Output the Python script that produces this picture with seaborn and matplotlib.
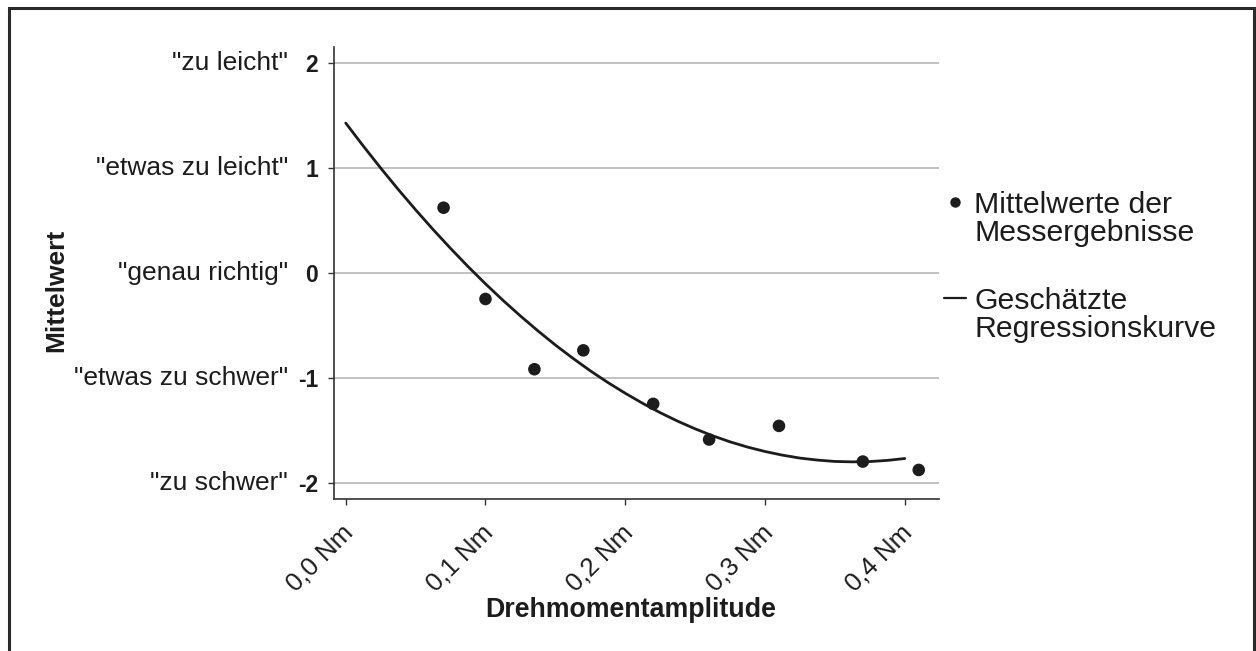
import numpy as np
import pandas as pd
import matplotlib
matplotlib.use("Agg")
import matplotlib.pyplot as plt
import matplotlib.transforms as mtransforms
from matplotlib.lines import Line2D
from matplotlib.patches import Rectangle
from matplotlib.legend_handler import HandlerLine2D
import seaborn as sns

# Data
amplitude = [0.07, 0.10, 0.135, 0.17, 0.22, 0.26, 0.31, 0.37, 0.41]
mean_score = [0.62, -0.25, -0.92, -0.74, -1.25, -1.59, -1.46, -1.80, -1.88]

# estimated regression curve, read at steps of 0.0125 Nm
curve_x = [0.0, 0.0125, 0.025, 0.0375, 0.05, 0.0625, 0.075, 0.0875, 0.1,
           0.1125, 0.125, 0.1375, 0.15, 0.1625, 0.175, 0.1875, 0.2,
           0.2125, 0.225, 0.2375, 0.25, 0.2625, 0.275, 0.2875, 0.3,
           0.3125, 0.325, 0.3375, 0.35, 0.3625, 0.375, 0.3875, 0.4]
curve_y = [1.427, 1.209, 0.998, 0.795, 0.600, 0.412, 0.232, 0.059, -0.106,
           -0.263, -0.412, -0.554, -0.689, -0.815, -0.935, -1.046, -1.149,
           -1.245, -1.334, -1.415, -1.488, -1.554, -1.612, -1.662, -1.704,
           -1.739, -1.767, -1.786, -1.799, -1.803, -1.800, -1.789, -1.771]

y_ticks = [2, 1, 0, -1, -2]
y_tick_labels = ["2", "1", "0", "-1", "-2"]
y_descriptions = ['"zu leicht"', '"etwas zu leicht"', '"genau richtig"',
                  '"etwas zu schwer"', '"zu schwer"']
x_ticks = [0.0, 0.1, 0.2, 0.3, 0.4]
x_tick_labels = ["0,0 Nm", "0,1 Nm", "0,2 Nm", "0,3 Nm", "0,4 Nm"]

points_df = pd.DataFrame({"amp": amplitude, "mean": mean_score})
curve_df = pd.DataFrame({"amp": curve_x, "fit": curve_y})

sns.set_style("white")
plt.rcParams["font.family"] = ["Liberation Sans", "DejaVu Sans"]

dark = "#1c1c1c"
W, H = 1256, 651
fig = plt.figure(figsize=(W / 100, H / 100), dpi=100)
ax = fig.add_axes([334 / W, 1 - 499 / H, (939 - 334) / W, (499 - 47) / H])

sns.lineplot(data=curve_df, x="amp", y="fit", ax=ax, color=dark, lw=2.0,
             zorder=3)
sns.scatterplot(data=points_df, x="amp", y="mean", ax=ax, color=dark, s=82,
                edgecolor="none", zorder=4)

ax.set_xlim(-0.0084, 0.4245)
ax.set_ylim(-2.157, 2.152)

# axes styling
sns.despine(ax=ax)
for side in ["left", "bottom"]:
    ax.spines[side].set_color("#333333")
    ax.spines[side].set_linewidth(1.2)
ax.yaxis.grid(True, color="#b0b0b0", lw=1.1)
ax.set_axisbelow(True)
ax.tick_params(left=True, bottom=True, length=4.5, width=1.0, color="#333333")

ax.set_yticks(y_ticks)
ax.set_yticklabels(y_tick_labels, fontsize=16.5, fontweight="bold", color=dark)
ax.tick_params(axis="y", pad=7)
for yv, desc in zip(y_ticks, y_descriptions):
    ax.text(-0.076, yv, desc, transform=ax.get_yaxis_transform(),
            ha="right", va="center", fontsize=19, color=dark)

ax.set_xticks(x_ticks)
ax.set_xticklabels(x_tick_labels, fontsize=18.5, color=dark, rotation=45,
                   ha="right", va="center", rotation_mode="anchor")
ax.tick_params(axis="x", pad=17)
shift = mtransforms.ScaledTranslation(4 / 100, 0, fig.dpi_scale_trans)
for lbl in ax.get_xticklabels():
    lbl.set_transform(lbl.get_transform() + shift)

ax.set_xlabel("Drehmomentamplitude", fontsize=19.3, fontweight="bold", color=dark)
ax.xaxis.set_label_coords(631 / W, 1 - 597 / H, transform=fig.transFigure)
ax.set_ylabel("Mittelwert", fontsize=19, fontweight="bold", color=dark)
ax.yaxis.set_label_coords(68 / W, 1 - 290 / H, transform=fig.transFigure)


# legend: handle next to the first line of each two-line label
class FirstLineHandler(HandlerLine2D):
    def __init__(self, lift, **kw):
        super().__init__(**kw)
        self.lift = lift

    def adjust_drawing_area(self, legend, orig_handle, xdescent, ydescent,
                            width, height, fontsize):
        xd, yd, w, h = super().adjust_drawing_area(
            legend, orig_handle, xdescent, ydescent, width, height, fontsize)
        return xd, yd - 2 * self.lift, w, h


dot = Line2D([], [], ls="none", marker="o", ms=7.5, color=dark, mec="none")
line = Line2D([], [], color=dark, lw=1.6)
leg = ax.legend([dot, line],
                ["Mittelwerte der\nMessergebnisse", "Geschätzte\nRegressionskurve"],
                handler_map={Line2D: FirstLineHandler(12.5)},
                loc="upper left", bbox_to_anchor=(944 / W, 1 - 191 / H),
                bbox_transform=fig.transFigure, frameon=False, fontsize=21.8,
                handlelength=0.72, handletextpad=0.28, labelspacing=1.32,
                borderpad=0, borderaxespad=0)
for t in leg.get_texts():
    t.set_linespacing(0.99)
    t.set_color(dark)

# frame around the whole picture (open at the bottom)
fig.patches.append(Rectangle((8.5 / W, -0.1), (1254 - 8.5) / W, 1.1 - 8.5 / H,
                             transform=fig.transFigure, fill=False,
                             ec="#2a2a2a", lw=2.2, clip_on=False))

fig.savefig("out.png", dpi=100)
